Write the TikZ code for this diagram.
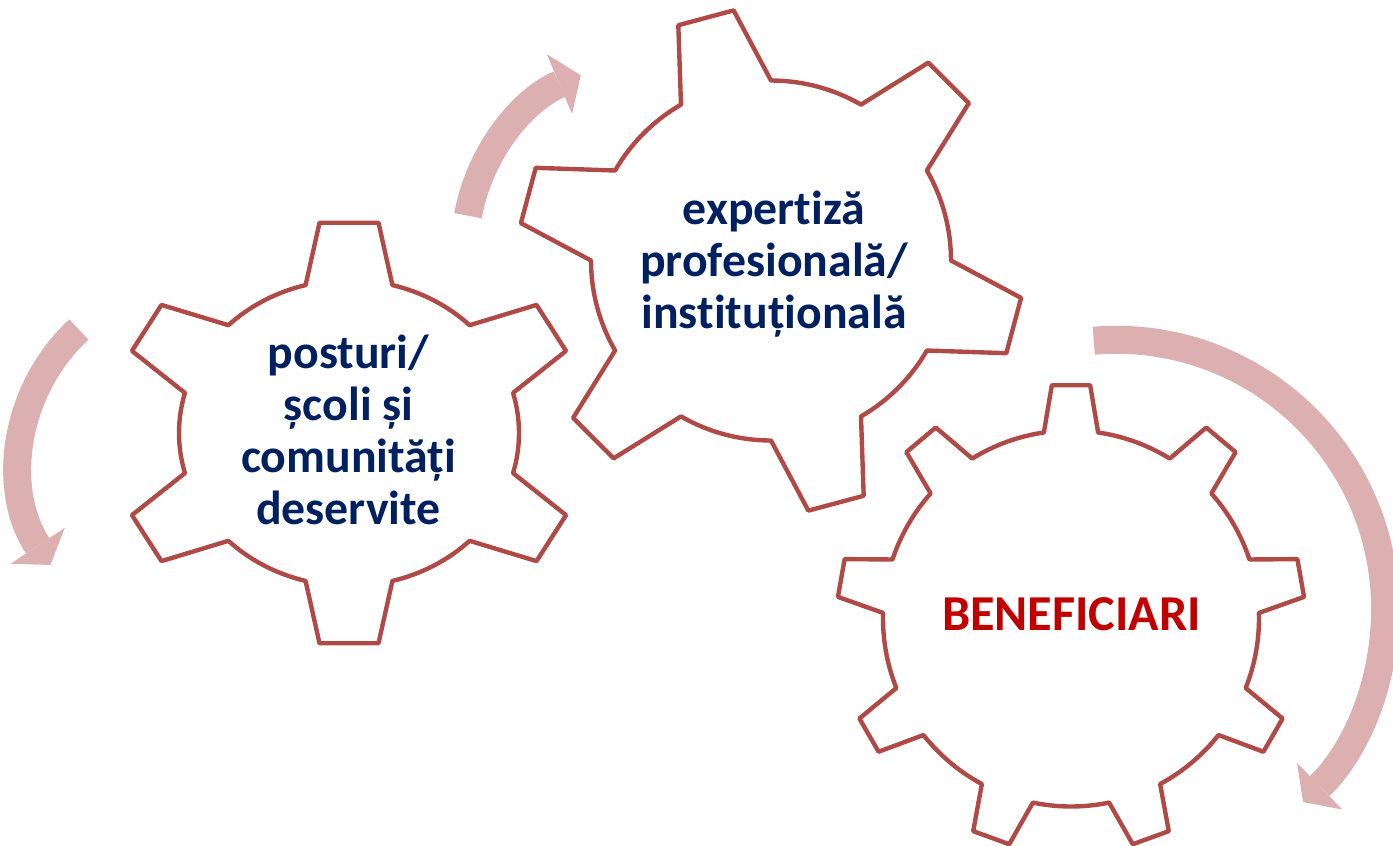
\documentclass[tikz,border=0pt]{standalone}
\usepackage{fontspec}
\setmainfont{Carlito}[Ligatures=NoCommon]
\usepackage{xcolor}
\usepackage{tikz}
\usetikzlibrary{arrows.meta}
\definecolor{gearred}{RGB}{176,74,71}
\definecolor{turnpink}{RGB}{220,176,176}
\definecolor{textnavy}{RGB}{0,32,96}
\definecolor{textred}{RGB}{192,0,0}
\tikzstyle{gear} = [draw=gearred, line width=1.25pt, line join=round]
\tikzstyle{turn} = [draw=turnpink, line width=0.28cm, -{Triangle[width=0.65cm, length=0.23cm, line width=0pt]}]
\tikzstyle{gearlabel} = [align=center, inner sep=0pt, text=textnavy, font=\fontsize{13.6}{14.8}\selectfont\bfseries]

\begin{document}
\begin{tikzpicture}
      \useasboundingbox (0,0) rectangle (13.93,-8.45);
      \coordinate (g1) at (3.49,-4.33);
      \coordinate (g2) at (7.71,-2.605);
      \coordinate (g3) at (10.71,-6.185);
      % left gear, six teeth
      \begin{scope}[shift={(g1)}, xscale=1.70, yscale=1.53]
        \draw [gear] (15.2:1) \foreach \k in {0,...,5} {
          -- ({30+60*\k-7.2}:1.385) -- ({30+60*\k+7.2}:1.385) -- ({30+60*\k+14.8}:1)
          arc [start angle={30+60*\k+14.8}, end angle={90+60*\k-14.8}, radius=1]} -- cycle;
      \end{scope}
      % middle gear, six teeth
      \begin{scope}[shift={(g2)}, scale=1.80]
        \draw [gear] (30:1) \foreach \k in {0,...,5} {
          -- ({45+60*\k-6.5}:1.405) -- ({45+60*\k+6.5}:1.405) -- ({45+60*\k+15}:1)
          arc [start angle={45+60*\k+15}, end angle={105+60*\k-15}, radius=1]} -- cycle;
      \end{scope}
      % right gear, nine teeth
      \begin{scope}[shift={(g3)}, scale=1.88]
        \draw [gear] (81.7:1) \foreach \k in {0,...,8} {
          -- ({90+40*\k-4.7}:1.245) -- ({90+40*\k+4.7}:1.245) -- ({90+40*\k+8.3}:1)
          arc [start angle={90+40*\k+8.3}, end angle={130+40*\k-8.3}, radius=1]} -- cycle;
      \end{scope}
      \node (posts) [gearlabel] at (3.485,-4.30) {posturi/\\școli și\\comunități\\deservite};
      \node (expert) [gearlabel] at (7.74,-2.64) {expertiză\\profesională/\\instituțională};
      \node (benef) [gearlabel, text=textred, font=\fontsize{14.3}{17}\selectfont\bfseries] at (10.715,-6.14) {BENEFICIARI};
      % turning arrows
      \coordinate (t1) at (0.789,-3.295);
      \coordinate (t2) at (4.680,-2.157);
      \coordinate (t3) at (10.938,-3.407);
      \draw [turn] (t1) arc [start angle=132.7, end angle=213.5, radius=1.83];
      \draw [turn] (t2) arc [start angle=169.7, end angle=112.8, radius=1.89];
      \draw [turn] (t3) arc [start angle=94.75, end angle=-45.95, radius=2.69];
    \end{tikzpicture}
\end{document}
